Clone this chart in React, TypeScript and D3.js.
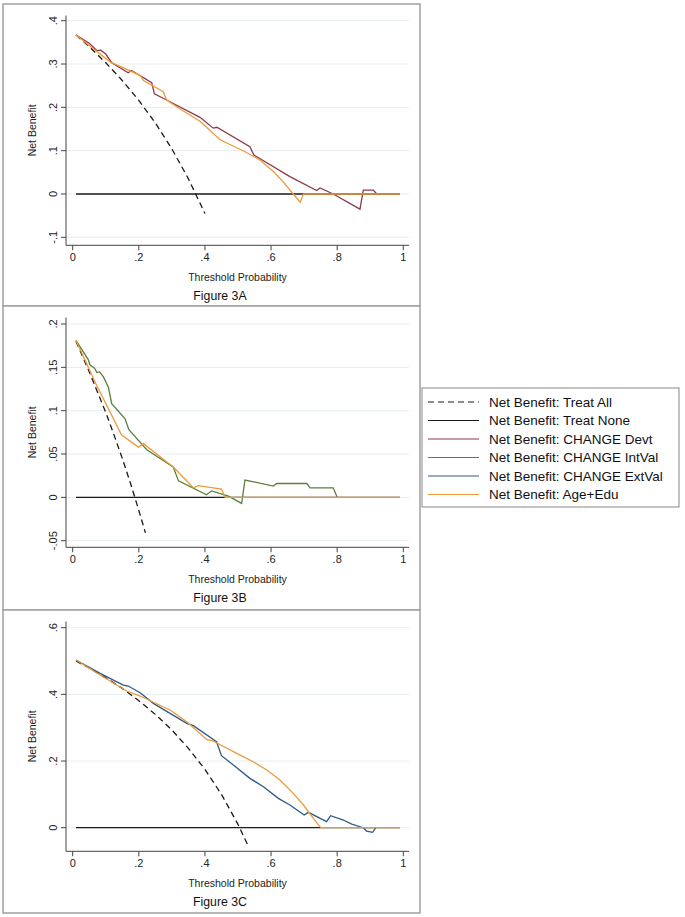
import React, { useEffect, useRef } from 'react';
import * as d3 from 'd3';

type Pt = [number, number];

// x axis (shared by all three panels)
const xTicks = [0, 0.2, 0.4, 0.6, 0.8, 1];
const xTickLabels = ['0', '.2', '.4', '.6', '.8', '1'];

// y ticks per panel
const yTicksA = [-0.1, 0, 0.1, 0.2, 0.3, 0.4];
const yTickLabelsA = ['-.1', '0', '.1', '.2', '.3', '.4'];
const yTicksB = [-0.05, 0, 0.05, 0.1, 0.15, 0.2];
const yTickLabelsB = ['-.05', '0', '.05', '.1', '.15', '.2'];
const yTicksC = [0, 0.2, 0.4, 0.6];
const yTickLabelsC = ['0', '.2', '.4', '.6'];

// Figure 3A
const treatAllA: Pt[] = [
  [0.01, 0.367], [0.05, 0.340], [0.1, 0.303], [0.15, 0.262], [0.2, 0.216],
  [0.25, 0.164], [0.3, 0.104], [0.35, 0.035], [0.4, -0.045],
];
const treatNoneA: Pt[] = [[0.01, 0], [0.99, 0]];
const devtA: Pt[] = [
  [0.01, 0.367], [0.05, 0.348], [0.073, 0.331], [0.085, 0.332], [0.1, 0.323],
  [0.118, 0.303], [0.168, 0.280], [0.178, 0.285], [0.239, 0.257], [0.247, 0.231],
  [0.284, 0.217], [0.385, 0.177], [0.425, 0.152], [0.436, 0.154], [0.536, 0.109],
  [0.548, 0.090], [0.657, 0.040], [0.738, 0.008], [0.748, 0.014], [0.788, 0.000],
  [0.869, -0.035], [0.879, 0.009], [0.909, 0.009], [0.92, 0.0],
];
const ageEduA: Pt[] = [
  [0.01, 0.367], [0.113, 0.305], [0.204, 0.274], [0.214, 0.262], [0.274, 0.236],
  [0.284, 0.217], [0.325, 0.196], [0.385, 0.168], [0.446, 0.125], [0.52, 0.098],
  [0.567, 0.078], [0.607, 0.052], [0.637, 0.028], [0.667, 0.0], [0.688, -0.019],
  [0.698, 0.0], [0.99, 0.0],
];

// Figure 3B
const treatAllB: Pt[] = [
  [0.01, 0.180], [0.05, 0.145], [0.1, 0.098], [0.125, 0.072], [0.15, 0.045],
  [0.175, 0.016], [0.2, -0.015], [0.22, -0.041],
];
const treatNoneB: Pt[] = [[0.01, 0], [0.99, 0]];
const intValB: Pt[] = [
  [0.01, 0.181], [0.047, 0.159], [0.052, 0.153], [0.066, 0.149], [0.073, 0.144],
  [0.081, 0.145], [0.093, 0.139], [0.108, 0.127], [0.118, 0.108], [0.158, 0.091],
  [0.17, 0.078], [0.224, 0.055], [0.304, 0.035], [0.32, 0.019], [0.405, 0.003],
  [0.42, 0.0075], [0.471, 0.0015], [0.511, -0.007], [0.521, 0.02], [0.607, 0.013],
  [0.617, 0.016], [0.708, 0.016], [0.718, 0.011], [0.788, 0.011], [0.80, 0.0],
];
const ageEduB: Pt[] = [
  [0.01, 0.181], [0.07, 0.131], [0.148, 0.072], [0.199, 0.058], [0.214, 0.062],
  [0.304, 0.035], [0.365, 0.011], [0.38, 0.0135], [0.45, 0.0096], [0.461, 0.0],
  [0.99, 0.0],
];

// Figure 3C
const treatAllC: Pt[] = [
  [0.01, 0.500], [0.05, 0.479], [0.1, 0.450], [0.15, 0.418], [0.2, 0.381],
  [0.25, 0.340], [0.3, 0.293], [0.35, 0.238], [0.4, 0.175], [0.45, 0.100],
  [0.5, 0.010], [0.53, -0.053],
];
const treatNoneC: Pt[] = [[0.01, 0], [0.99, 0]];
const extValC: Pt[] = [
  [0.01, 0.503], [0.083, 0.463], [0.153, 0.428], [0.168, 0.425], [0.204, 0.405],
  [0.244, 0.373], [0.345, 0.313], [0.365, 0.306], [0.435, 0.258], [0.45, 0.216],
  [0.486, 0.188], [0.536, 0.148], [0.577, 0.123], [0.622, 0.088], [0.657, 0.068],
  [0.70, 0.038], [0.713, 0.046], [0.768, 0.018], [0.78, 0.036], [0.819, 0.023],
  [0.844, 0.011], [0.879, 0.0], [0.889, -0.01], [0.907, -0.014], [0.917, 0.0],
];
const ageEduC: Pt[] = [
  [0.01, 0.503], [0.083, 0.458], [0.163, 0.410], [0.204, 0.395], [0.294, 0.353],
  [0.345, 0.318], [0.405, 0.265], [0.425, 0.260], [0.496, 0.223], [0.546, 0.198],
  [0.587, 0.173], [0.627, 0.143], [0.667, 0.103], [0.698, 0.068], [0.728, 0.028],
  [0.75, 0.0], [0.99, 0.0],
];

const legendLabels = [
  'Net Benefit: Treat All',
  'Net Benefit: Treat None',
  'Net Benefit: CHANGE Devt',
  'Net Benefit: CHANGE IntVal',
  'Net Benefit: CHANGE ExtVal',
  'Net Benefit: Age+Edu',
];

const COLORS = {
  all: '#1a1a1a',
  none: '#1a1a1a',
  devt: '#8c3a48',
  intval: '#5a7f3a',
  extval: '#2f5a85',
  age: '#ec9a3a',
};
const legendColors = [COLORS.all, COLORS.none, COLORS.devt, COLORS.intval, COLORS.extval, COLORS.age];

const FONT = '"Liberation Sans", Arial, Helvetica, sans-serif';

interface PanelSpec {
  top: number;
  height: number;
  title: string;
  yTicks: number[];
  yLabels: string[];
  yHiPx: number; // offset of highest tick from panel top
  yLoPx: number; // offset of lowest tick from panel top
  series: { data: Pt[]; color: string; dash?: string }[];
}

const App: React.FC = () => {
  const svgRef = useRef<SVGSVGElement>(null);

  useEffect(() => {
    if (!svgRef.current) return;
    const svg = d3.select(svgRef.current);
    svg.selectAll('*').remove();

    const panels: PanelSpec[] = [
      {
        top: 4, height: 302, title: 'Figure 3A',
        yTicks: yTicksA, yLabels: yTickLabelsA, yHiPx: 16.7, yLoPx: 233.3,
        series: [
          { data: treatAllA, color: COLORS.all, dash: '6,4' },
          { data: treatNoneA, color: COLORS.none },
          { data: devtA, color: COLORS.devt },
          { data: ageEduA, color: COLORS.age },
        ],
      },
      {
        top: 306, height: 304, title: 'Figure 3B',
        yTicks: yTicksB, yLabels: yTickLabelsB, yHiPx: 18, yLoPx: 234.7,
        series: [
          { data: treatAllB, color: COLORS.all, dash: '6,4' },
          { data: treatNoneB, color: COLORS.none },
          { data: intValB, color: COLORS.intval },
          { data: ageEduB, color: COLORS.age },
        ],
      },
      {
        top: 610, height: 303, title: 'Figure 3C',
        yTicks: yTicksC, yLabels: yTickLabelsC, yHiPx: 17.7, yLoPx: 217.7,
        series: [
          { data: treatAllC, color: COLORS.all, dash: '6,4' },
          { data: treatNoneC, color: COLORS.none },
          { data: extValC, color: COLORS.extval },
          { data: ageEduC, color: COLORS.age },
        ],
      },
    ];

    const x = d3.scaleLinear().domain([0, 1]).range([72.7, 403.3]);
    const axisX0 = 66;
    const axisX1 = 409;

    panels.forEach(p => {
      const g = svg.append('g');
      const y = d3.scaleLinear()
        .domain([p.yTicks[0], p.yTicks[p.yTicks.length - 1]])
        .range([p.top + p.yLoPx, p.top + p.yHiPx]);
      const axisY = p.top + 241.3;
      const axisTop = p.top + 11.5;

      // frame
      g.append('rect')
        .attr('x', 3).attr('y', p.top)
        .attr('width', 417).attr('height', p.height)
        .attr('fill', 'white')
        .attr('stroke', '#a0a0a0')
        .attr('stroke-width', 1.5);

      // grid
      g.selectAll('.grid')
        .data(p.yTicks)
        .enter()
        .append('line')
        .attr('x1', axisX0).attr('x2', axisX1)
        .attr('y1', d => y(d)).attr('y2', d => y(d))
        .attr('stroke', '#e6eef0')
        .attr('stroke-width', 1);

      // y axis
      g.append('line')
        .attr('x1', axisX0).attr('x2', axisX0)
        .attr('y1', axisTop).attr('y2', axisY)
        .attr('stroke', '#444').attr('stroke-width', 1);
      g.selectAll('.ytick')
        .data(p.yTicks)
        .enter()
        .append('line')
        .attr('x1', axisX0 - 5).attr('x2', axisX0)
        .attr('y1', d => y(d)).attr('y2', d => y(d))
        .attr('stroke', '#444').attr('stroke-width', 1);
      g.selectAll('.ylabel')
        .data(p.yTicks)
        .enter()
        .append('text')
        .attr('transform', d => `translate(57,${y(d)}) rotate(-90)`)
        .attr('text-anchor', 'middle')
        .style('font-family', FONT)
        .style('font-size', '11px')
        .attr('fill', '#222')
        .text((d, i) => p.yLabels[i]);

      // x axis
      g.append('line')
        .attr('x1', axisX0).attr('x2', axisX1)
        .attr('y1', axisY).attr('y2', axisY)
        .attr('stroke', '#444').attr('stroke-width', 1);
      g.selectAll('.xtick')
        .data(xTicks)
        .enter()
        .append('line')
        .attr('x1', d => x(d)).attr('x2', d => x(d))
        .attr('y1', axisY).attr('y2', axisY + 5)
        .attr('stroke', '#444').attr('stroke-width', 1);
      g.selectAll('.xlabel')
        .data(xTicks)
        .enter()
        .append('text')
        .attr('x', d => x(d))
        .attr('y', axisY + 15.5)
        .attr('text-anchor', 'middle')
        .style('font-family', FONT)
        .style('font-size', '11px')
        .attr('fill', '#222')
        .text((d, i) => xTickLabels[i]);

      // axis titles
      g.append('text')
        .attr('x', (axisX0 + axisX1) / 2)
        .attr('y', axisY + 36)
        .attr('text-anchor', 'middle')
        .style('font-family', FONT)
        .style('font-size', '10.5px')
        .attr('fill', '#222')
        .text('Threshold Probability');
      g.append('text')
        .attr('transform', `translate(36,${(axisTop + axisY) / 2}) rotate(-90)`)
        .attr('text-anchor', 'middle')
        .style('font-family', FONT)
        .style('font-size', '10.5px')
        .attr('fill', '#222')
        .text('Net Benefit');
      g.append('text')
        .attr('x', 220)
        .attr('y', axisY + 54.5)
        .attr('text-anchor', 'middle')
        .style('font-family', FONT)
        .style('font-size', '12.3px')
        .attr('fill', '#111')
        .text(p.title);

      // curves
      const line = d3.line<Pt>()
        .x(d => x(d[0]))
        .y(d => y(d[1]));
      p.series.forEach(s => {
        g.append('path')
          .datum(s.data)
          .attr('fill', 'none')
          .attr('stroke', s.color)
          .attr('stroke-width', 1.3)
          .attr('stroke-dasharray', s.dash || null)
          .attr('d', line);
      });
    });

    // legend
    const legend = svg.append('g');
    legend.append('rect')
      .attr('x', 422).attr('y', 388)
      .attr('width', 257).attr('height', 119)
      .attr('fill', 'white')
      .attr('stroke', '#888')
      .attr('stroke-width', 1);
    const ly = d3.scalePoint<number>()
      .domain(d3.range(legendLabels.length))
      .range([402, 494.5]);
    legendLabels.forEach((label, i) => {
      legend.append('line')
        .attr('x1', 428).attr('x2', 479)
        .attr('y1', ly(i)!).attr('y2', ly(i)!)
        .attr('stroke', legendColors[i])
        .attr('stroke-width', 1.2)
        .attr('stroke-dasharray', i === 0 ? '6,4' : null);
      legend.append('text')
        .attr('x', 489)
        .attr('y', ly(i)! + 4.8)
        .style('font-family', FONT)
        .style('font-size', '13.5px')
        .attr('fill', '#111')
        .text(label);
    });
  }, []);

  return (
    <div style={{ position: 'absolute', left: 0, top: 0, width: 685, height: 917, background: 'white' }}>
      <svg ref={svgRef} width={685} height={917}></svg>
    </div>
  );
};

export default App;
